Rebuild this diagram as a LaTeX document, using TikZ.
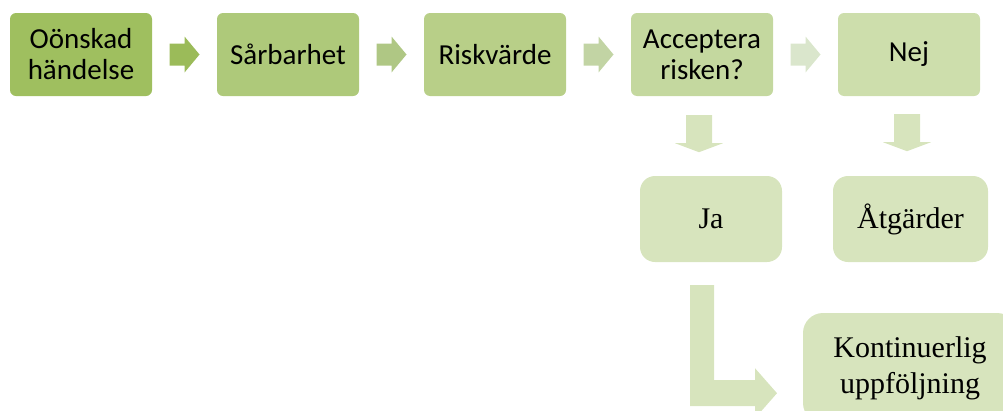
\documentclass[tikz,border=0pt]{standalone}
\usepackage{fontspec}
\setmainfont{Liberation Serif}
\newfontfamily\boxfont{Carlito}
\usepackage{tikz}
\usetikzlibrary{calc}

\definecolor{boxA}{HTML}{9FBF5F}
\definecolor{boxB}{HTML}{AEC97A}
\definecolor{boxC}{HTML}{B8CF88}
\definecolor{boxD}{HTML}{C4D89F}
\definecolor{boxE}{HTML}{CDDEAC}
\definecolor{boxL}{HTML}{D7E4BD}
\definecolor{arrA}{HTML}{9BBB59}
\definecolor{arrB}{HTML}{AFC784}
\definecolor{arrC}{HTML}{C2D4A4}
\definecolor{arrD}{HTML}{DAE6CC}
\definecolor{arrL}{HTML}{D7E4BD}

\begin{document}
\begin{tikzpicture}[x=1pt,y=-1pt,
    topbox/.style={fill=#1, rounded corners=6pt, minimum width=142pt, minimum height=83pt,
        inner sep=0pt, align=center, font=\boxfont\fontsize{29}{31}\selectfont},
    lowbox/.style={fill=boxL, rounded corners=15pt, minimum height=86pt,
        inner sep=0pt, align=center, font=\fontsize{30}{36}\selectfont},
    harrow/.pic={\fill[#1] (-15,-11) -- (0,-11) -- (0,-18) -- (15,0) -- (0,18) -- (0,11) -- (-15,11) -- cycle;},
    varrow/.pic={\fill[arrL] (-13,-18) -- (13,-18) -- (13,10) -- (24,10) -- (0,19) -- (-24,10) -- (-13,10) -- cycle;}]
    \clip (0,0) rectangle (1003,410);
    \useasboundingbox (0,0) rectangle (1003,410);

    % top row
    \node[topbox=boxA] (event) at (81,54.5) {Oönskad\\händelse};
    \node[topbox=boxB] (vuln) at (288,54.5) {Sårbarhet};
    \node[topbox=boxC] (risk) at (495,54.5) {Riskvärde};
    \node[topbox=boxD] (accept) at (702,54.5) {Acceptera\\risken?};
    \node[topbox=boxE] (no) at (909,54.5) {Nej};

    \pic at ($(event.east)!.5!(vuln.west)$) {harrow=arrA};
    \pic at ($(vuln.east)!.5!(risk.west)$) {harrow=arrB};
    \pic at ($(risk.east)!.5!(accept.west)$) {harrow=arrC};
    \pic at ($(accept.east)!.5!(no.west)$) {harrow=arrD};

    % lower boxes
    \node[lowbox, minimum width=142pt] (yes) at (711,219) {Ja};
    \node[lowbox, minimum width=155pt] (measures) at (910.5,219) {Åtgärder};
    \node[lowbox, minimum width=214pt, minimum height=110pt, rounded corners=20pt] (followup) at (910,368) {Kontinuerlig\\uppföljning};

    \pic at ($(accept.south)+(-3,37)$) {varrow};
    \pic at ($(no.south)+(-2,36)$) {varrow};

    \fill[arrL] ($(yes.south)+(-21,23)$) -- ++(24,0) -- ++(0,95) -- ++(41,0) -- ++(0,-12)
        -- ++(22,25) -- ++(-22,25) -- ++(0,-12) -- ++(-65,0) -- cycle;
\end{tikzpicture}
\end{document}
